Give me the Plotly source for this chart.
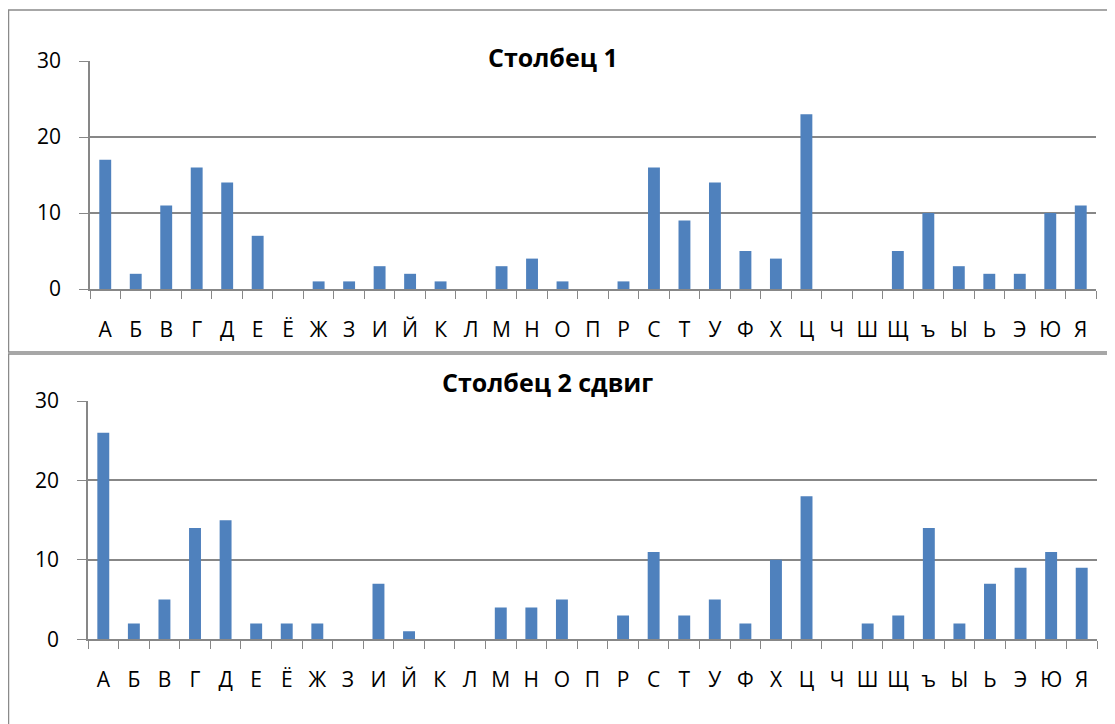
import plotly.graph_objects as go

letters = ["А", "Б", "В", "Г", "Д", "Е", "Ё", "Ж", "З", "И", "Й", "К", "Л", "М", "Н", "О", "П",
           "Р", "С", "Т", "У", "Ф", "Х", "Ц", "Ч", "Ш", "Щ", "ъ", "Ы", "Ь", "Э", "Ю", "Я"]
col1 = [17, 2, 11, 16, 14, 7, 0, 1, 1, 3, 2, 1, 0, 3, 4, 1, 0,
        1, 16, 9, 14, 5, 4, 23, 0, 0, 5, 10, 3, 2, 2, 10, 11]
col2 = [26, 2, 5, 14, 15, 2, 2, 2, 0, 7, 1, 0, 0, 4, 4, 5, 0,
        3, 11, 3, 5, 2, 10, 18, 0, 2, 3, 14, 2, 7, 9, 11, 9]
title1 = "Столбец 1"
title2 = "Столбец 2 сдвиг"
y_ticks = [0, 10, 20, 30]

OFF = 8  # page body margin
W, H = 1115 - OFF, 724 - OFF
FONT = "Open Sans"
BAR = "#4F81BD"
GRID = "#878787"


def px(x):
    return (x - OFF) / W


def py(y):
    return 1 - (y - OFF) / H


fig = go.Figure()
fig.add_trace(go.Bar(x=letters, y=col1, marker=dict(color=BAR, line=dict(width=0)),
                     xaxis="x", yaxis="y", showlegend=False))
fig.add_trace(go.Bar(x=letters, y=col2, marker=dict(color=BAR, line=dict(width=0)),
                     xaxis="x2", yaxis="y2", showlegend=False))

xcommon = dict(type="category", tickson="boundaries", ticks="outside", ticklen=8, tickcolor=GRID,
               showline=True, linecolor=GRID, linewidth=1.5, showgrid=False, automargin=False,
               tickangle=0,
               tickfont=dict(family=FONT, size=21, color="#000"), ticklabelstandoff=21,
               fixedrange=True)
ycommon = dict(range=[0, 30], tickvals=y_ticks, ticks="outside", ticklen=9, tickcolor=GRID,
               showline=True, linecolor=GRID, linewidth=1.5, showgrid=True, gridcolor=GRID,
               gridwidth=1.5, zeroline=False, automargin=False,
               tickfont=dict(family=FONT, size=21, color="#000"), ticklabelstandoff=14,
               fixedrange=True)

fig.update_layout(
    template="none",
    width=W, height=H,
    margin=dict(l=0, r=0, t=0, b=0, pad=0),
    paper_bgcolor="white", plot_bgcolor="white",
    bargap=0.61,
    xaxis=dict(domain=[px(90), px(1096)], anchor="y", **xcommon),
    yaxis=dict(domain=[py(289), py(61)], anchor="x", **ycommon),
    xaxis2=dict(domain=[px(88), px(1097)], anchor="y2", **xcommon),
    yaxis2=dict(domain=[py(639.3), py(401)], anchor="x2", **ycommon),
    annotations=[
        dict(text="<b>" + title1 + "</b>", x=px(553), y=py(38), xref="paper", yref="paper",
             showarrow=False, font=dict(family=FONT, size=25, color="#000")),
        dict(text="<b>" + title2 + "</b>", x=px(547), y=py(382), xref="paper", yref="paper",
             showarrow=False, font=dict(family=FONT, size=25, color="#000")),
    ],
    shapes=[
        dict(type="rect", xref="paper", yref="paper", x0=px(8.5), x1=px(1130), y0=py(352), y1=py(10),
             line=dict(color="#8a8a8a", width=1.5)),
        dict(type="rect", xref="paper", yref="paper", x0=px(8.5), x1=px(1130), y0=py(740), y1=py(354),
             line=dict(color="#8a8a8a", width=1.5)),
    ],
)

fig.write_html("out.html")
